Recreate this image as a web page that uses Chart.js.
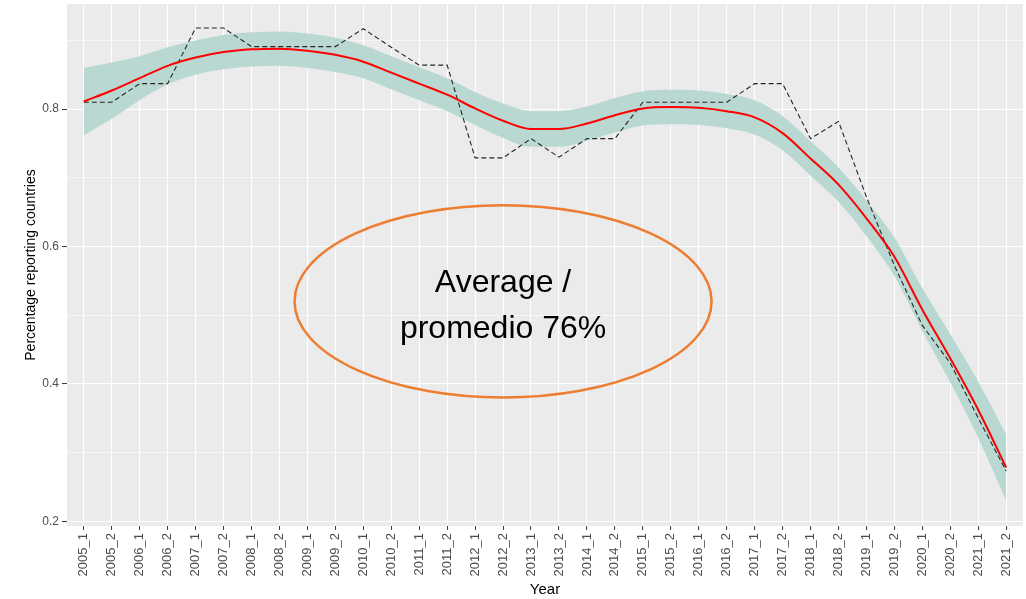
<!DOCTYPE html>
<html>
<head>
<meta charset="utf-8">
<title>Percentage reporting countries</title>
<script src="https://cdn.jsdelivr.net/npm/chart.js@4/dist/chart.umd.min.js"></script>
<style>
  html, body { margin: 0; padding: 0; background: #fff; }
  #chart { display: block; }
</style>
</head>
<body>
<canvas id="chart" width="1026" height="599"></canvas>
<script>
const fontFamily = "'Liberation Sans', Arial, sans-serif";

const yearLabels = [
  "2005_1", "2005_2", "2006_1", "2006_2", "2007_1", "2007_2", "2008_1", "2008_2",
  "2009_1", "2009_2", "2010_1", "2010_2", "2011_1", "2011_2", "2012_1", "2012_2",
  "2013_1", "2013_2", "2014_1", "2014_2", "2015_1", "2015_2", "2016_1", "2016_2",
  "2017_1", "2017_2", "2018_1", "2018_2", "2019_1", "2019_2", "2020_1", "2020_2",
  "2021_1", "2021_2"
];

// observed share (dashed line)
const observed = [
  0.810, 0.810, 0.837, 0.837, 0.918, 0.918, 0.891, 0.891,
  0.891, 0.891, 0.917, 0.890, 0.864, 0.864, 0.729, 0.729,
  0.757, 0.730, 0.757, 0.757, 0.810, 0.810, 0.810, 0.810,
  0.837, 0.837, 0.757, 0.782, 0.672, 0.572, 0.485, 0.430,
  0.350, 0.273
];

// smoothed trend (red line)
const smoothed = [
  0.811, 0.827, 0.845, 0.863, 0.875, 0.883, 0.887, 0.888,
  0.885, 0.879, 0.869, 0.853, 0.837, 0.821, 0.801, 0.783,
  0.771, 0.771, 0.779, 0.791, 0.801, 0.803, 0.802, 0.797,
  0.788, 0.765, 0.728, 0.690, 0.641, 0.585, 0.508, 0.437,
  0.362, 0.278
];

// confidence band around the trend
const bandUpper = [
  0.860, 0.868, 0.877, 0.890, 0.900, 0.908, 0.912, 0.913,
  0.910, 0.904, 0.893, 0.877, 0.861, 0.845, 0.825, 0.808,
  0.797, 0.797, 0.804, 0.816, 0.826, 0.828, 0.827, 0.822,
  0.813, 0.790, 0.753, 0.715, 0.667, 0.613, 0.539, 0.472,
  0.403, 0.326
];
const bandLower = [
  0.762, 0.786, 0.813, 0.836, 0.850, 0.858, 0.862, 0.863,
  0.860, 0.854, 0.845, 0.829, 0.813, 0.797, 0.777, 0.758,
  0.745, 0.745, 0.754, 0.766, 0.776, 0.778, 0.777, 0.772,
  0.763, 0.740, 0.703, 0.665, 0.615, 0.557, 0.477, 0.402,
  0.321, 0.230
];

const yMajorTicks = [0.2, 0.4, 0.6, 0.8];
const yMinorTicks = [0.3, 0.5, 0.7, 0.9];

const noteLines = ["Average /", "promedio 76%"];

function toPoints(values) {
  return values.map((v, i) => ({ x: i, y: v }));
}

function isMajor(value) {
  return yMajorTicks.some((t) => Math.abs(t - value) < 1e-6);
}

// grey ggplot-like panel
const panelBackground = {
  id: "panelBackground",
  beforeDraw(chart) {
    const { ctx, chartArea } = chart;
    ctx.save();
    ctx.fillStyle = "#EBEBEB";
    ctx.fillRect(chartArea.left, chartArea.top, chartArea.right - chartArea.left, chartArea.bottom - chartArea.top);
    ctx.restore();
  }
};

// orange ellipse with the average note
const averageNote = {
  id: "averageNote",
  afterDatasetsDraw(chart) {
    const { ctx } = chart;
    const xs = chart.scales.x;
    const ys = chart.scales.y;
    const cx = xs.getPixelForValue(15);
    const cy = ys.getPixelForValue(0.52);
    const rx = xs.getPixelForValue(15 + 7.46) - cx;
    const ry = ys.getPixelForValue(0.52 - 0.14) - cy;

    ctx.save();
    ctx.beginPath();
    ctx.ellipse(cx, cy, rx, ry, 0, 0, Math.PI * 2);
    ctx.strokeStyle = "#ED7D31";
    ctx.lineWidth = 2.5;
    ctx.stroke();

    ctx.fillStyle = "#000";
    ctx.font = `32px ${fontFamily}`;
    ctx.textAlign = "center";
    ctx.textBaseline = "alphabetic";
    ctx.fillText(noteLines[0], cx, cy - 9);
    ctx.fillText(noteLines[1], cx, cy + 37);
    ctx.restore();
  }
};

const chart = new Chart(document.getElementById("chart"), {
  type: "line",
  data: {
    datasets: [
      {
        label: "trend",
        data: toPoints(smoothed),
        borderColor: "#FF0000",
        borderWidth: 2,
        pointRadius: 0,
        tension: 0.4,
        cubicInterpolationMode: "monotone",
        fill: false,
        order: 0
      },
      {
        label: "observed",
        data: toPoints(observed),
        borderColor: "#262626",
        borderWidth: 1.1,
        borderDash: [5, 3],
        pointRadius: 0,
        tension: 0,
        fill: false,
        order: 1
      },
      {
        label: "upper",
        data: toPoints(bandUpper),
        borderWidth: 0,
        borderColor: "rgba(0,0,0,0)",
        pointRadius: 0,
        tension: 0.4,
        cubicInterpolationMode: "monotone",
        fill: false,
        order: 2
      },
      {
        label: "lower",
        data: toPoints(bandLower),
        borderWidth: 0,
        borderColor: "rgba(0,0,0,0)",
        backgroundColor: "#B9D8D2",
        pointRadius: 0,
        tension: 0.4,
        cubicInterpolationMode: "monotone",
        fill: "-1",
        order: 3
      }
    ]
  },
  options: {
    responsive: false,
    animation: false,
    devicePixelRatio: 1,
    layout: { padding: { top: 4, right: 3, left: 0, bottom: 0 } },
    plugins: {
      legend: { display: false },
      tooltip: { enabled: false }
    },
    scales: {
      x: {
        type: "linear",
        min: -0.6,
        max: 33.6,
        afterBuildTicks: (scale) => {
          scale.ticks = yearLabels.map((_, i) => ({ value: i }));
        },
        afterFit: (scale) => {
          scale.height = 73;
          scale.paddingLeft = 0;
          scale.paddingRight = 0;
        },
        border: { display: false },
        grid: {
          color: "#FFFFFF",
          lineWidth: 1.1,
          drawTicks: true,
          tickLength: 4,
          tickColor: "#333333",
          tickWidth: 1
        },
        ticks: {
          autoSkip: false,
          minRotation: 90,
          maxRotation: 90,
          padding: 3,
          color: "#4D4D4D",
          font: { family: fontFamily, size: 13 },
          callback: (value) => yearLabels[value]
        },
        title: {
          display: true,
          text: "Year",
          color: "#000",
          font: { family: fontFamily, size: 15 },
          padding: { top: 1, bottom: 0 }
        }
      },
      y: {
        min: 0.193,
        max: 0.953,
        afterBuildTicks: (scale) => {
          scale.ticks = [...yMajorTicks, ...yMinorTicks]
            .sort((a, b) => a - b)
            .map((v) => ({ value: v }));
        },
        afterFit: (scale) => {
          scale.width = 67;
          scale.paddingTop = 0;
          scale.paddingBottom = 0;
        },
        border: { display: false },
        grid: {
          color: "#FFFFFF",
          lineWidth: (ctx) => isMajor(ctx.tick.value) ? 1.1 : 0.55,
          drawTicks: true,
          tickLength: 5,
          tickColor: (ctx) => isMajor(ctx.tick.value) ? "#333333" : "rgba(0,0,0,0)",
          tickWidth: 1
        },
        ticks: {
          padding: 3,
          color: "#4D4D4D",
          font: { family: fontFamily, size: 12 },
          callback: (value) => isMajor(value) ? value.toFixed(1) : ""
        },
        title: {
          display: true,
          text: "Percentage reporting countries",
          color: "#000",
          font: { family: fontFamily, size: 14 },
          padding: { top: 23, bottom: 0 }
        }
      }
    }
  },
  plugins: [panelBackground, averageNote]
});
</script>
</body>
</html>
